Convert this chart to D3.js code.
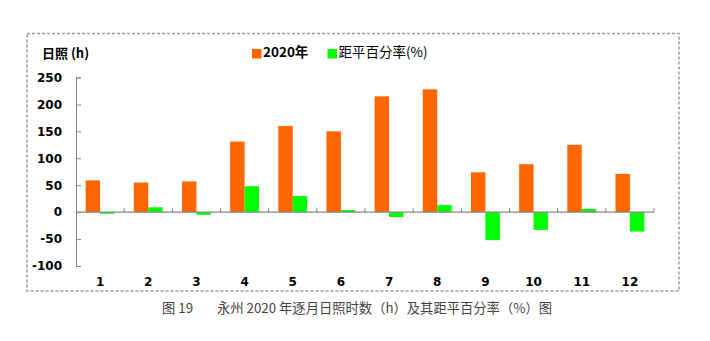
<!DOCTYPE html>
<html>
<head>
<meta charset="utf-8">
<script src="https://cdn.jsdelivr.net/npm/d3@7"></script>
<style>
  html, body { margin: 0; padding: 0; background: #fff; }
  svg { display: block; }
</style>
</head>
<body>
<svg id="chart" width="710" height="341"></svg>
<script>
// Monthly sunshine hours for Yongzhou, 2020, and anomaly percentage
const months = ["1", "2", "3", "4", "5", "6", "7", "8", "9", "10", "11", "12"];
const sunshine2020 = [59, 55, 57, 131, 160, 150, 215, 228, 74, 89, 125, 71];
const anomalyPct = [-3, 9, -5, 48, 30, 4, -9, 13, -52, -33, 6, -36];
const yTicks = [-100, -50, 0, 50, 100, 150, 200, 250];

const svg = d3.select("#chart");
const plotLeft = 76, plotRight = 654, plotTop = 77.5, plotBottom = 266;
const orange = "#FF6600", green = "#00FF00", axisGray = "#868686";
const numFont = "'DejaVu Sans', Verdana, sans-serif";
const cjkFont = "'Noto Sans CJK SC', 'Noto Sans', sans-serif";

// dashed frame around the chart area
svg.append("rect")
  .attr("x", 27).attr("y", 33.5).attr("width", 652).attr("height", 257.5)
  .attr("fill", "none").attr("stroke", "#9a9a9a")
  .attr("stroke-width", 1.5).attr("stroke-dasharray", "3,2");

const x = d3.scaleBand().domain(months).range([plotLeft, plotRight]).paddingInner(0).paddingOuter(0);
const y = d3.scaleLinear().domain([-100, 250]).range([plotBottom, plotTop]);
const barW = x.bandwidth() * 0.3;
const off = x.bandwidth() * 0.2;

// y axis with inward ticks; plain hyphen for negatives
const yAxis = svg.append("g").attr("transform", `translate(${plotLeft},0)`)
  .call(d3.axisLeft(y).tickValues(yTicks).tickSize(-5).tickPadding(14).tickFormat(d => String(d)));
yAxis.select(".domain").attr("stroke", axisGray).attr("stroke-width", 1);
yAxis.selectAll(".tick line").attr("stroke", axisGray);
yAxis.selectAll(".tick text")
  .attr("font-family", numFont).attr("font-weight", "bold")
  .attr("font-size", 12).attr("fill", "#000");

// bars for 2020 sunshine hours
svg.append("g").selectAll("rect").data(sunshine2020).join("rect")
  .attr("x", (d, i) => x(months[i]) + off)
  .attr("width", barW)
  .attr("y", d => y(Math.max(0, d)))
  .attr("height", d => Math.abs(y(d) - y(0)))
  .attr("fill", orange);

// bars for anomaly percentage
svg.append("g").selectAll("rect").data(anomalyPct).join("rect")
  .attr("x", (d, i) => x(months[i]) + off + barW)
  .attr("width", barW)
  .attr("y", d => y(Math.max(0, d)))
  .attr("height", d => Math.abs(y(d) - y(0)))
  .attr("fill", green);

// category axis on the zero line, ticks between categories pointing up
const zeroY = y(0);
const xg = svg.append("g");
xg.append("line").attr("x1", plotLeft).attr("x2", plotRight)
  .attr("y1", zeroY).attr("y2", zeroY).attr("stroke", axisGray).attr("stroke-width", 1.2);
xg.selectAll("line.tk").data(months).join("line")
  .attr("class", "tk")
  .attr("x1", d => x(d) + x.bandwidth())
  .attr("x2", d => x(d) + x.bandwidth())
  .attr("y1", zeroY).attr("y2", zeroY - 4).attr("stroke", axisGray);

// month labels below the plot
svg.append("g").selectAll("text").data(months).join("text")
  .attr("x", d => x(d) + x.bandwidth() / 2)
  .attr("y", 282)
  .attr("dy", "0.35em")
  .attr("text-anchor", "middle")
  .attr("font-family", numFont).attr("font-weight", "bold")
  .attr("font-size", 12).attr("fill", "#000")
  .text(d => d);

// axis title
svg.append("text").attr("x", 42).attr("y", 53).attr("dy", "0.35em")
  .attr("font-family", cjkFont).attr("font-weight", "bold").attr("font-size", 13)
  .attr("fill", "#000").text("日照 (h)");

// legend
const legend = [
  { label: "2020年", color: orange, x: 252, bold: true },
  { label: "距平百分率(%)", color: green, x: 327.5, bold: false }
];
const lg = svg.append("g").selectAll("g").data(legend).join("g");
lg.append("rect").attr("x", d => d.x).attr("y", 49).attr("width", 9.5).attr("height", 9.5)
  .attr("fill", d => d.color);
lg.append("text").attr("x", d => d.x + 11).attr("y", 52).attr("dy", "0.35em")
  .attr("font-family", cjkFont).attr("font-size", 13.5)
  .attr("font-weight", d => d.bold ? "bold" : "normal")
  .attr("fill", "#000").text(d => d.label);

// figure caption
const cap = svg.append("g").attr("font-family", cjkFont).attr("font-size", 13.3).attr("fill", "#444");
cap.append("text").attr("x", 162).attr("y", 308).attr("dy", "0.35em").text("图 19");
cap.append("text").attr("x", 217).attr("y", 308).attr("dy", "0.35em")
  .text("永州 2020 年逐月日照时数（h）及其距平百分率（%）图");
</script>
</body>
</html>
